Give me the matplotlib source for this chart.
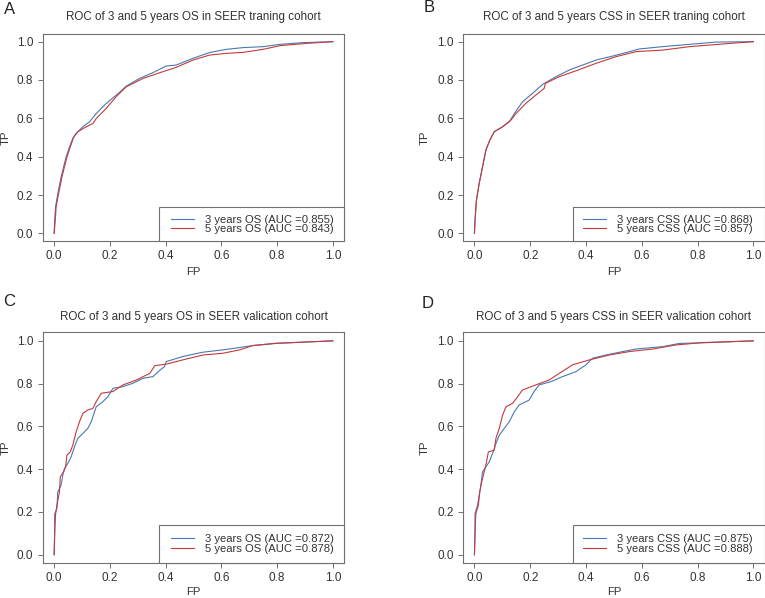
import matplotlib
matplotlib.use("Agg")
import matplotlib.pyplot as plt
from matplotlib.patches import Rectangle

plt.rcParams['font.family'] = ['Liberation Sans', 'DejaVu Sans']

# ---------------- data ----------------
titles = ["ROC of 3 and 5 years OS in SEER traning cohort",
          "ROC of 3 and 5 years CSS in SEER traning cohort",
          "ROC of 3 and 5 years OS in SEER valication cohort",
          "ROC of 3 and 5 years CSS in SEER valication cohort"]
panel_letters = ["A", "B", "C", "D"]
legend_labels = [["3 years OS (AUC =0.855)", "5 years OS (AUC =0.843)"],
                 ["3 years CSS (AUC =0.868)", "5 years CSS (AUC =0.857)"],
                 ["3 years OS (AUC =0.872)", "5 years OS (AUC =0.878)"],
                 ["3 years CSS (AUC =0.875)", "5 years CSS (AUC =0.888)"]]

# Panel A - training OS
a_fp3 = [0, 0.002, 0.005, 0.013, 0.025, 0.034, 0.043, 0.055, 0.067, 0.079, 0.103, 0.127, 0.151, 0.187, 0.223, 0.259, 0.306, 0.354, 0.402, 0.438, 0.498, 0.557, 0.618, 0.678, 0.75, 0.81, 0.893, 1.0]
a_tp3 = [0, 0.068, 0.138, 0.207, 0.294, 0.347, 0.399, 0.451, 0.495, 0.521, 0.556, 0.582, 0.625, 0.678, 0.721, 0.768, 0.808, 0.838, 0.873, 0.878, 0.913, 0.943, 0.960, 0.969, 0.974, 0.986, 0.995, 1.0]
a_fp5 = [0, 0.004, 0.007, 0.016, 0.028, 0.037, 0.046, 0.058, 0.07, 0.085, 0.115, 0.139, 0.151, 0.187, 0.223, 0.259, 0.319, 0.379, 0.438, 0.498, 0.557, 0.618, 0.678, 0.75, 0.81, 0.905, 1.0]
a_tp5 = [0, 0.068, 0.138, 0.207, 0.294, 0.347, 0.399, 0.451, 0.503, 0.530, 0.556, 0.573, 0.599, 0.652, 0.714, 0.765, 0.808, 0.838, 0.866, 0.904, 0.930, 0.939, 0.944, 0.960, 0.979, 0.991, 1.0]

# Panel B - training CSS
b_fp3 = [0, 0.002, 0.007, 0.017, 0.029, 0.041, 0.055, 0.071, 0.101, 0.125, 0.143, 0.172, 0.208, 0.244, 0.292, 0.340, 0.388, 0.436, 0.496, 0.592, 0.675, 0.771, 0.867, 1.0]
b_tp3 = [0, 0.068, 0.172, 0.260, 0.347, 0.434, 0.486, 0.530, 0.556, 0.582, 0.625, 0.686, 0.730, 0.777, 0.817, 0.852, 0.878, 0.904, 0.925, 0.962, 0.974, 0.986, 0.998, 1.0]
b_fp5 = [0, 0.002, 0.007, 0.017, 0.029, 0.041, 0.055, 0.071, 0.101, 0.131, 0.149, 0.184, 0.220, 0.250, 0.254, 0.304, 0.364, 0.436, 0.508, 0.580, 0.675, 0.771, 0.891, 1.0]
b_tp5 = [0, 0.068, 0.172, 0.260, 0.347, 0.434, 0.486, 0.530, 0.556, 0.591, 0.625, 0.678, 0.721, 0.756, 0.782, 0.817, 0.848, 0.887, 0.922, 0.948, 0.956, 0.974, 0.988, 1.0]

# Panel C - validation OS
c_fp3 = [0, 0.002, 0.002, 0.010, 0.013, 0.025, 0.031, 0.037, 0.049, 0.061, 0.073, 0.085, 0.103, 0.121, 0.133, 0.145, 0.151, 0.175, 0.193, 0.211, 0.247, 0.283, 0.319, 0.355, 0.373, 0.396, 0.402, 0.462, 0.534, 0.606, 0.666, 0.713, 0.797, 0.893, 1.0]
c_tp3 = [0, 0.106, 0.192, 0.216, 0.294, 0.325, 0.372, 0.403, 0.427, 0.458, 0.505, 0.544, 0.567, 0.591, 0.622, 0.669, 0.692, 0.716, 0.739, 0.778, 0.786, 0.802, 0.825, 0.833, 0.856, 0.880, 0.903, 0.927, 0.947, 0.958, 0.969, 0.978, 0.988, 0.994, 1.0]
c_fp5 = [0, 0.002, 0.005, 0.010, 0.019, 0.022, 0.034, 0.041, 0.046, 0.058, 0.067, 0.079, 0.091, 0.103, 0.121, 0.139, 0.151, 0.169, 0.211, 0.247, 0.295, 0.343, 0.361, 0.402, 0.462, 0.534, 0.606, 0.666, 0.713, 0.797, 0.893, 1.0]
c_tp5 = [0, 0.106, 0.188, 0.231, 0.294, 0.364, 0.388, 0.411, 0.466, 0.481, 0.513, 0.575, 0.622, 0.661, 0.677, 0.684, 0.716, 0.755, 0.763, 0.794, 0.817, 0.848, 0.884, 0.891, 0.911, 0.934, 0.942, 0.958, 0.978, 0.989, 0.994, 1.0]

# Panel D - validation CSS
d_fp3 = [0, 0.002, 0.002, 0.011, 0.017, 0.023, 0.029, 0.041, 0.053, 0.067, 0.077, 0.089, 0.107, 0.125, 0.143, 0.160, 0.196, 0.214, 0.232, 0.274, 0.316, 0.364, 0.400, 0.424, 0.472, 0.532, 0.580, 0.675, 0.735, 0.843, 1.0]
d_tp3 = [0, 0.106, 0.192, 0.231, 0.278, 0.325, 0.388, 0.411, 0.434, 0.481, 0.520, 0.559, 0.591, 0.622, 0.669, 0.700, 0.723, 0.763, 0.794, 0.809, 0.833, 0.856, 0.888, 0.919, 0.934, 0.950, 0.962, 0.973, 0.988, 0.992, 1.0]
d_fp5 = [0, 0.002, 0.005, 0.014, 0.019, 0.026, 0.041, 0.050, 0.071, 0.077, 0.089, 0.101, 0.113, 0.137, 0.155, 0.172, 0.220, 0.268, 0.304, 0.352, 0.412, 0.484, 0.556, 0.641, 0.723, 0.819, 1.0]
d_tp5 = [0, 0.106, 0.192, 0.231, 0.294, 0.341, 0.419, 0.481, 0.489, 0.544, 0.591, 0.653, 0.692, 0.708, 0.739, 0.770, 0.794, 0.817, 0.848, 0.888, 0.911, 0.934, 0.950, 0.962, 0.981, 0.992, 1.0]

curves = [((a_fp3, a_tp3), (a_fp5, a_tp5)),
          ((b_fp3, b_tp3), (b_fp5, b_tp5)),
          ((c_fp3, c_tp3), (c_fp5, c_tp5)),
          ((d_fp3, d_tp3), (d_fp5, d_tp5))]
ticks = [0.0, 0.2, 0.4, 0.6, 0.8, 1.0]
tick_labels = ["0.0", "0.2", "0.4", "0.6", "0.8", "1.0"]

# ---------------- style / layout ----------------
W, H = 765, 598
fig = plt.figure(figsize=(W / 100, H / 100), dpi=100)

BLUE = "#4a78b2"
RED = "#c43a3a"
TXT = "#333333"
SPINE = "#707070"

# pixel boxes: left, top, right, bottom
boxes = [(43, 34, 344, 241), (463.3, 34, 764.5, 241),
         (43, 332.3, 344, 563.3), (463.3, 332.3, 764.5, 563.3)]
leg_left_px = [159.3, 572.7, 159.3, 572.7]
leg_handle_px = [171, 583.3, 171, 583.3]
leg_top_px = [207.3, 207.3, 525, 525]
leg_center_px = [224.5, 224.5, 544.2, 544.2]
title_y_px = [17, 17, 317, 317]
letter_pos_px = [(10, 9.5), (429, 8), (9, 302), (428, 304)]
ylab_x_px = [6, 425, 6, 425]
xlab_y_px = [271.7, 271.7, 591.7, 591.7]

for i in range(4):
    l, t, r, b = boxes[i]
    ax = fig.add_axes([l / W, 1 - b / H, (r - l) / W, (b - t) / H])
    (fp3, tp3), (fp5, tp5) = curves[i]
    ax.plot(fp3, tp3, color=BLUE, lw=0.8, label=legend_labels[i][0])
    ax.plot(fp5, tp5, color=RED, lw=0.8, label=legend_labels[i][1])
    ax.set_xlim(-0.04, 1.04)
    ax.set_ylim(-0.04, 1.04)
    ax.set_xticks(ticks)
    ax.set_xticklabels(tick_labels)
    ax.set_yticks(ticks)
    ax.set_yticklabels(tick_labels)
    ax.tick_params(axis='both', direction='out', length=3.6, width=0.7,
                   color=SPINE, labelcolor=TXT, labelsize=8.5)
    ax.tick_params(axis='x', pad=3.0)
    ax.tick_params(axis='y', pad=3.4)
    for s in ax.spines.values():
        s.set_color(SPINE)
        s.set_linewidth(0.8)
    aw, ah = r - l, b - t
    ax.set_xlabel("FP", fontsize=8.2, color=TXT)
    ax.set_ylabel("TP", fontsize=8.2, color=TXT)
    ax.xaxis.set_label_coords(0.5, -(xlab_y_px[i] - b) / ah)
    ax.yaxis.set_label_coords((ylab_x_px[i] - l) / aw, 0.5)
    ax.xaxis.label.set_va('center')
    ax.yaxis.label.set_va('center')
    ax.yaxis.label.set_ha('center')

    # legend frame
    x0 = (leg_left_px[i] - l) / aw
    hh = (b - leg_top_px[i]) / ah
    ax.add_patch(Rectangle((x0, 0), 1 - x0, hh, transform=ax.transAxes,
                           facecolor='white', edgecolor=SPINE, lw=0.8,
                           zorder=5, clip_on=False))
    leg = ax.legend(loc='center left', frameon=False, fontsize=8.1,
                    bbox_to_anchor=((leg_handle_px[i] - l) / aw, (b - leg_center_px[i]) / ah),
                    borderpad=0, borderaxespad=0, handlelength=2.0,
                    handletextpad=1.0, labelspacing=-0.02, labelcolor=TXT)
    leg.set_zorder(6)

    fig.text((l + r) / 2 / W, 1 - title_y_px[i] / H, titles[i], ha='center',
             va='center', fontsize=8.4, color=TXT)
    lx, ly = letter_pos_px[i]
    fig.text(lx / W, 1 - ly / H, panel_letters[i], ha='center', va='center',
             fontsize=12, color='#222222')

fig.savefig("out.png", dpi=100, facecolor='white')
